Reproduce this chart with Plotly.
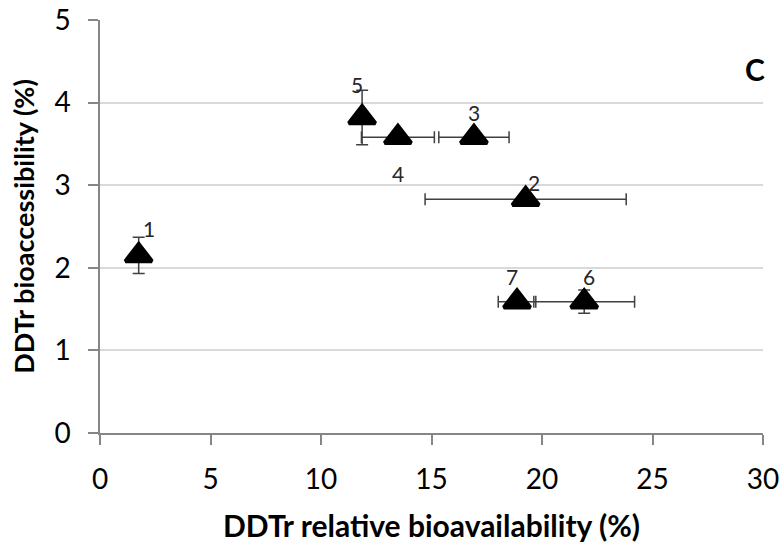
import plotly.graph_objects as go

labels = ["1", "2", "3", "4", "5", "6", "7"]
rel_bioavail = [1.75, 19.26, 16.92, 13.48, 11.86, 21.91, 18.87]
rel_bioavail_err = [0.15, 4.55, 1.59, 1.65, 0.0, 2.28, 0.85]
bioaccess = [2.15, 2.83, 3.58, 3.58, 3.82, 1.59, 1.59]
bioaccess_err = [0.22, 0.0, 0.0, 0.0, 0.33, 0.14, 0.0]

# label offsets in pixels (xshift, yshift)
label_dx = [10, 8, 0, 0, -5, 5, -5]
label_dy = [27, 17, 25, -36, 33, 25, 25]

FONT = "Lato, 'Open Sans', sans-serif"
AXIS_COL = "#868686"

fig = go.Figure()
fig.add_trace(go.Scatter(
    x=rel_bioavail, y=bioaccess, mode="markers",
    marker=dict(symbol="triangle-up", size=23, color="black",
                line=dict(color="black", width=4)),
    error_x=dict(type="data", array=rel_bioavail_err, visible=True,
                 color="#404040", thickness=1.5, width=6),
    error_y=dict(type="data", array=bioaccess_err, visible=True,
                 color="#404040", thickness=1.5, width=6),
    showlegend=False, hoverinfo="skip", cliponaxis=False,
))

for lab, x, y, dx, dy in zip(labels, rel_bioavail, bioaccess, label_dx, label_dy):
    fig.add_annotation(x=x, y=y, text=lab, showarrow=False,
                       xshift=dx, yshift=dy,
                       font=dict(family=FONT, size=21, color="#262626"))

fig.add_annotation(xref="paper", yref="paper", x=1.006, y=0.929, text="<b>C</b>",
                   showarrow=False, font=dict(family=FONT, size=30, color="black"))

fig.update_layout(
    width=781, height=543,
    margin=dict(l=100, r=18, t=20, b=110),
    paper_bgcolor="white", plot_bgcolor="white",
    font=dict(family=FONT, color="black"),
    xaxis=dict(
        range=[0, 30], tickvals=[0, 5, 10, 15, 20, 25, 30],
        automargin=False,
        showgrid=False, zeroline=False,
        showline=True, linecolor=AXIS_COL, linewidth=1.5,
        ticks="outside", ticklen=10, tickcolor=AXIS_COL, tickwidth=1.5,
        ticklabelstandoff=11,
        tickfont=dict(family=FONT, size=28, color="black"),
        title=dict(text="<b>DDTr relative bioavailability (%)</b>",
                   font=dict(family=FONT, size=30, color="black"), standoff=22),
    ),
    yaxis=dict(
        range=[0, 5], tickvals=[0, 1, 2, 3, 4, 5],
        automargin=False,
        showgrid=True, gridcolor="#d9d9d9", gridwidth=1.5, zeroline=False,
        showline=True, linecolor=AXIS_COL, linewidth=1.5,
        ticks="outside", ticklen=10, tickcolor=AXIS_COL, tickwidth=1.5,
        ticklabelstandoff=12,
        tickfont=dict(family=FONT, size=28, color="black"),
        title=dict(text="<b>DDTr bioaccessibility (%)</b>",
                   font=dict(family=FONT, size=27, color="black"), standoff=12),
    ),
)

fig.write_html("out.html")
